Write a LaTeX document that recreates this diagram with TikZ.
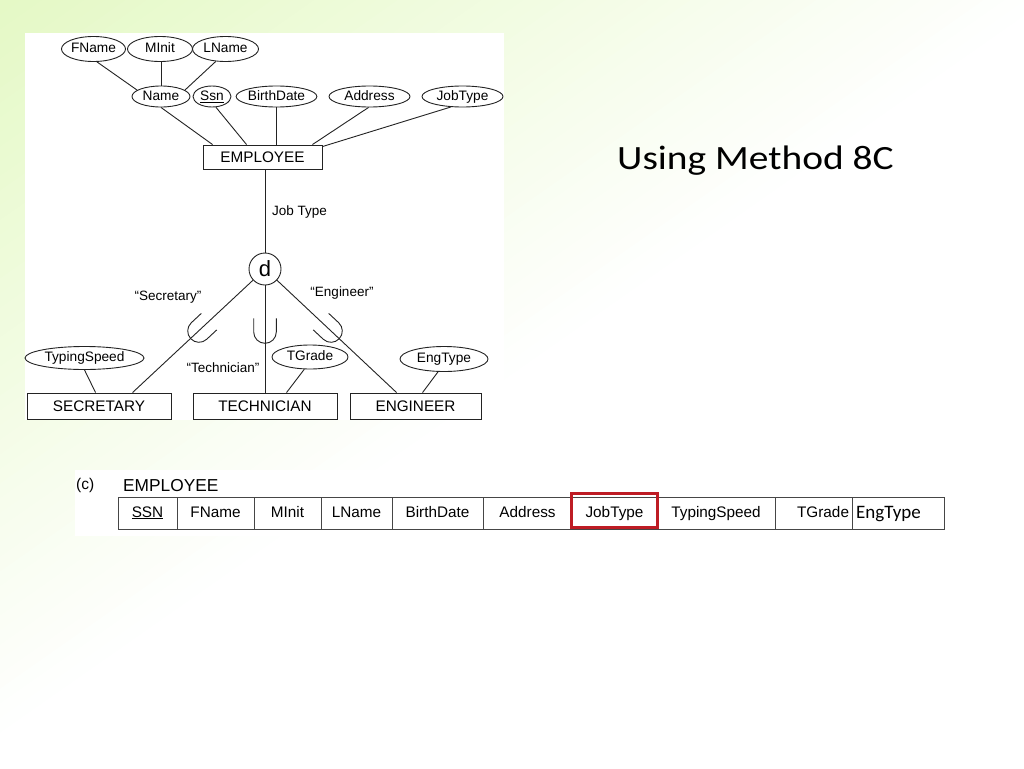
\documentclass[tikz,border=0pt]{standalone}
\usepackage{fontspec}
\setmainfont{Liberation Sans}
\newfontfamily\carl{Carlito}
\usetikzlibrary{shapes.geometric,calc}
\definecolor{bgG}{RGB}{226,248,192}
\definecolor{lineC}{RGB}{35,35,35}
\definecolor{tblC}{RGB}{70,70,70}
\definecolor{redC}{RGB}{190,28,36}
\begin{document}
\begin{tikzpicture}[x=1pt,y=-1pt,
  attr/.style={ellipse, draw=lineC, line width=0.9pt, inner sep=0pt,
    font=\fontsize{13.7}{15}\selectfont, text height=10pt, text depth=2.6pt},
  ent/.style={rectangle, draw=lineC, line width=0.9pt, inner sep=0pt,
    minimum height=25pt, font=\fontsize{15.3}{17}\selectfont, text height=11pt, text depth=0pt},
  cell/.style={rectangle, draw=tblC, line width=1pt, inner sep=0pt, minimum height=32pt,
    font=\fontsize{15.3}{17}\selectfont, text height=11pt, text depth=3pt},
  lbl/.style={inner sep=0pt, font=\fontsize{13.5}{15}\selectfont},
  conn/.style={draw=lineC, line width=0.9pt},
  ushape/.style={draw=lineC, line width=0.9pt}
]
\useasboundingbox (0,0) rectangle (1024,768);
% background: diagonal gradient from pale green (top left) to white
\fill[white] (0,0) rectangle (1024,768);
\begin{scope}
  \clip (0,0) rectangle (1024,768);
  \begin{scope}[rotate=-55]
    \foreach \i in {0,...,55}{
      \pgfmathsetmacro\p{100*\i/55}
      \fill[white!\p!bgG] (-60+12*\i,-1400) rectangle (-47+12*\i,1600);
    }
  \end{scope}
\end{scope}
\fill[white] (25,33) rectangle (504,420);
\fill[white] (75,470) rectangle (947,536);

% ER attributes
\node[attr, minimum width=64pt, minimum height=25pt] (FName) at (93.5,49) {FName};
\node[attr, minimum width=65pt, minimum height=25pt] (MInit) at (160,49) {MInit};
\node[attr, minimum width=66pt, minimum height=25pt] (LName) at (225.5,49) {LName};
\node[attr, minimum width=58pt, minimum height=21pt] (Name) at (161,96.5) {Name};
\node[attr, minimum width=38pt, minimum height=21pt] (Ssn) at (212,96.5) {\underline{Ssn}};
\node[attr, minimum width=77pt, minimum height=21pt] (BirthDate) at (276.5,96.5) {BirthDate};
\node[attr, minimum width=81pt, minimum height=21pt] (Address) at (369.5,96.5) {Address};
\node[attr, minimum width=81pt, minimum height=21pt] (JobType) at (462.5,96.5) {JobType};
\node[ent, minimum width=119pt, minimum height=24pt] (EMPLOYEE) at (262.5,157) {EMPLOYEE};

\node[circle, draw=lineC, line width=0.9pt, minimum size=32pt, inner sep=0pt,
  font=\fontsize{22}{24}\selectfont] (d) at (265,269) {d};

\node[ent, minimum width=144pt, minimum height=26pt] (SECRETARY) at (99,406) {SECRETARY};
\node[ent, minimum width=144pt, minimum height=26pt] (TECHNICIAN) at (265,406) {TECHNICIAN};
\node[ent, minimum width=131pt, minimum height=26pt] (ENGINEER) at (415.5,406) {ENGINEER};
\node[attr, minimum width=119pt, minimum height=23pt] (TypingSpeed) at (84.5,358) {TypingSpeed};
\node[attr, minimum width=76pt, minimum height=24pt] (TGrade) at (310,357) {TGrade};
\node[attr, minimum width=88pt, minimum height=25pt] (EngType) at (444,359) {EngType};

% labels
\node[lbl, anchor=west] (lJob) at (272,212) {Job Type};
\node[lbl] (lSec) at (168,297) {“Secretary”};
\node[lbl] (lEng) at (342,293) {“Engineer”};
\node[lbl] (lTech) at (223,368) {“Technician”};

% connectors
\draw[conn] (FName.285) -- (Name.165);
\draw[conn] (Name.north) -- (Name.north |- MInit.south);
\draw[conn] (LName.232) -- (Name.15);
\draw[conn] (Name.south) -- ($(EMPLOYEE.north west)+(10,0)$);
\draw[conn] (Ssn.290) -- ($(EMPLOYEE.north west)+(44,0)$);
\draw[conn] (BirthDate.south) -- (BirthDate.south |- EMPLOYEE.north);
\draw[conn] (Address.265) -- ($(EMPLOYEE.north east)+(-10,0)$);
\draw[conn] (JobType.222) -- ($(EMPLOYEE.north east)+(0,2)$);
\draw[conn] (EMPLOYEE.south -| d) -- (d.north);
\draw[conn] (d) -- ($(SECRETARY.north west)+(106,0)$);
\draw[conn] (d) -- (TECHNICIAN);
\draw[conn] (d) -- ($(ENGINEER.north west)+(47,0)$);
\draw[conn] (TypingSpeed.south) -- ($(SECRETARY.north west)+(69,0)$);
\draw[conn] (TGrade.245) -- ($(TECHNICIAN.north west)+(94,0)$);
\draw[conn] (EngType.245) -- ($(ENGINEER.north west)+(73,0)$);

% subset symbols
\foreach \cx/\cy/\ang in {199/331/-47, 265/332/0, 331/331/47}{
  \begin{scope}[shift={(\cx,\cy)}, rotate=\ang]
    \draw[ushape] (-11.3,-13.7) -- (-11.3,0) .. controls (-11.3,6.24) and (-6.24,11.3) .. (0,11.3)
      .. controls (6.24,11.3) and (11.3,6.24) .. (11.3,0) -- (11.3,-13.7);
  \end{scope}
}

% title
\node[anchor=base west, inner sep=0pt] (title) at (617,169)
  {\scalebox{1.16}[1]{\carl\fontsize{34}{38}\selectfont Using Method 8C}};

% relation table
\node[anchor=west, inner sep=0pt, font=\fontsize{15.5}{17}\selectfont] (tc) at (76,485) {(c)};
\node[anchor=west, inner sep=0pt, font=\fontsize{17.3}{19}\selectfont] (tname) at (123,486) {EMPLOYEE};
\node[cell, minimum width=59pt] (cSSN) at (147.5,513) {\underline{SSN}};
\node[cell, minimum width=77pt] (cFName) at (215.5,513) {FName};
\node[cell, minimum width=67pt] (cMInit) at (287.5,513) {MInit};
\node[cell, minimum width=71pt] (cLName) at (356.5,513) {LName};
\node[cell, minimum width=91pt] (cBirth) at (437.5,513) {BirthDate};
\node[cell, minimum width=89pt] (cAddr) at (527.5,513) {Address};
\node[cell, minimum width=85pt] (cJob) at (614.5,513) {JobType};
\node[cell, minimum width=118pt] (cTyp) at (716,513) {TypingSpeed};
\node[cell, minimum width=77pt, text width=71pt, align=right] (cTG) at (813.5,513) {TGrade};
\node[cell, minimum width=92pt] (cEng) at (898,513) {};
\node[anchor=base west, inner sep=0pt, font=\carl\fontsize{19}{21}\selectfont] (tEng) at (856,518) {EngType};
\draw[redC, line width=2.6pt] ($(cJob.north west)+(0,-3)$) rectangle ($(cJob.south east)+(0,-2)$);
\end{tikzpicture}
\end{document}
